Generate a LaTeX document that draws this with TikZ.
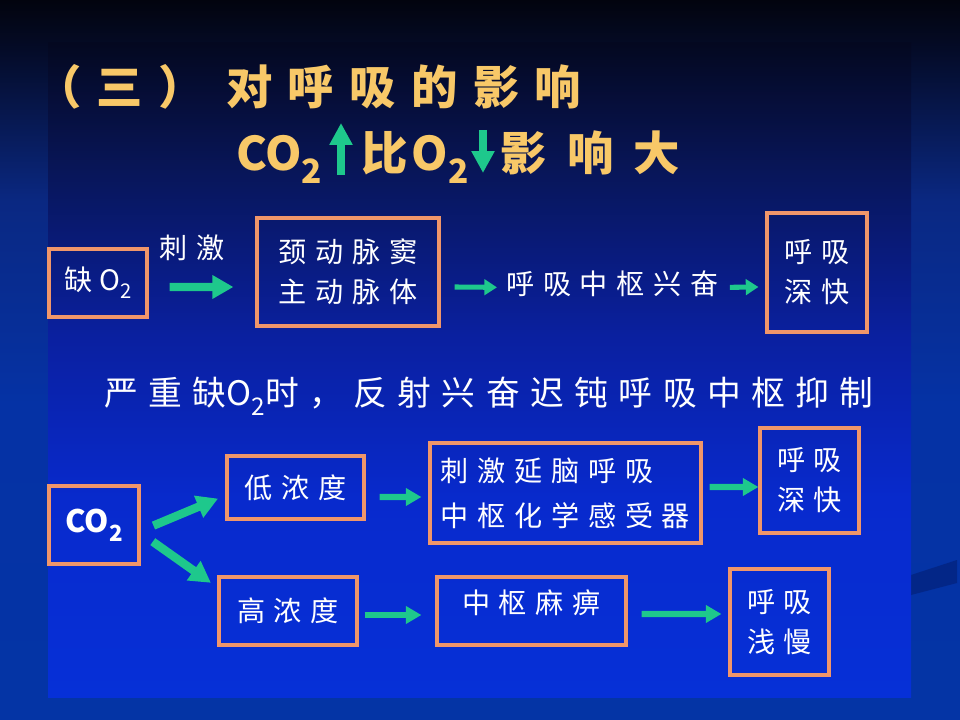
\documentclass[tikz,border=0pt]{standalone}
\usepackage{fontspec}
\setmainfont{Noto Sans CJK SC}
\usepackage{graphicx}
\usetikzlibrary{arrows.meta}
\definecolor{huang}{RGB}{248,200,104}
\definecolor{lv}{RGB}{30,200,140}
\definecolor{cheng}{RGB}{240,150,106}
\definecolor{w0}{RGB}{2,4,14}
\definecolor{w1}{RGB}{4,10,36}
\definecolor{w2}{RGB}{10,40,130}
\definecolor{w3}{RGB}{5,50,165}
\definecolor{w4}{RGB}{4,52,165}
\definecolor{n0}{RGB}{4,8,32}
\definecolor{n1}{RGB}{8,22,90}
\definecolor{n2}{RGB}{10,32,160}
\definecolor{n3}{RGB}{8,42,205}
\definecolor{n4}{RGB}{6,48,215}
\definecolor{xie}{RGB}{3,38,135}
\pgfdeclareverticalshading{waibg}{100bp}{color(0bp)=(w4); color(25bp)=(w4); color(47bp)=(w3); color(61bp)=(w2); color(72bp)=(w1); color(75bp)=(w0); color(100bp)=(w0)}
\pgfdeclareverticalshading{neibg}{100bp}{color(0bp)=(n4); color(25bp)=(n4); color(40bp)=(n3); color(52.5bp)=(n2); color(65bp)=(n1); color(75bp)=(n0); color(100bp)=(n0)}
\newcommand{\xiabiao}[1]{\raisebox{-.28em}{\scalebox{.72}{#1}}}
\newcommand{\hx}[2]{{\addfontfeature{LetterSpace=0}#1\xiabiao{#2}}}
\begin{document}
\begin{tikzpicture}[x=0.025cm,y=-0.025cm,
  kuang/.style={draw=cheng,line width=2.2pt,text=white,inner sep=0pt,align=center,
    font={\fontsize{20}{28.5}\selectfont\addfontfeature{LetterSpace=31}}},
  zi/.style={text=white,inner sep=0pt,font={\fontsize{20}{28.5}\selectfont\addfontfeature{LetterSpace=31}}},
  hang/.style={text=white,inner sep=0pt,font={\fontsize{24}{30}\selectfont\addfontfeature{LetterSpace=31}}},
  biaoti/.style={text=huang,inner sep=0pt,font={\bfseries\fontsize{33}{40}\selectfont\addfontfeature{LetterSpace=33}}},
  biaoti2/.style={text=huang,inner sep=0pt,font={\bfseries\fontsize{33}{40}\selectfont\addfontfeature{LetterSpace=44}}},
  cu/.style={lv,line width=6pt,-{Triangle[length=15pt,width=16pt]}},
  zhong/.style={lv,line width=4.4pt,-{Triangle[length=11pt,width=12pt]}},
  xi/.style={lv,line width=3.6pt,-{Triangle[length=9pt,width=11pt]}},
  jt/.style={lv,line width=5pt,-{Triangle[length=15.6pt,width=15.6pt]}}]
\useasboundingbox (0,0) rectangle (960,720);
\shade[shading=waibg] (0,0) rectangle (960,720);
\fill[xie] (911,575) -- (957,560) -- (957,583) -- (911,595) -- cycle;
\shade[shading=neibg] (48,43) rectangle (911,697);

\node[biaoti,anchor=base] (san) at (120,105) {（三）};
\node[biaoti,anchor=base west] (duihx) at (226,105) {对呼吸的影响};
\node[biaoti,anchor=base west] (co) at (236,171) {\hx{CO}{2}};
\coordinate (up0) at (341,175);
\coordinate (up1) at (341,123);
\node[biaoti,anchor=base west] (bi) at (361,171) {比\hspace{3pt}\hx{O}{2}};
\coordinate (dn0) at (483,130);
\coordinate (dn1) at (483,173);
\node[biaoti2,anchor=base west] (yxd) at (500,171) {影响大};
\draw[jt] (up0) -- (up1);
\draw[jt] (dn0) -- (dn1);

\node[kuang,minimum width=2.45cm,minimum height=1.7cm] (que) at (98,283) {缺\hspace{5pt}\hx{O}{2}};
\node[zi,anchor=base] (ciji1) at (192,259) {刺激};
\node[kuang,minimum width=4.55cm,minimum height=2.7cm] (jing) at (348,272) {颈动脉窦\\主动脉体};
\node[zi,anchor=base west] (xing) at (506,295) {呼吸中枢兴奋};
\node[kuang,minimum width=2.5cm,minimum height=2.975cm] (shen1) at (817,272.5) {呼吸\\深快};
\draw[cu] ([xshift=.525cm,yshift=-.1cm]que.east) -- ([xshift=-.55cm,yshift=-.375cm]jing.west);
\draw[xi] ([xshift=.35cm,yshift=-.375cm]jing.east) -- ([xshift=-.225cm,yshift=-.075cm]xing.west);
\draw[xi] ([xshift=.275cm,yshift=-.075cm]xing.east) -- ([xshift=-.175cm,yshift=-.3625cm]shen1.west);

\node[hang,anchor=base] (yanzh) at (489,406) {严重缺\hx{O}{2}时，反射兴奋迟钝呼吸中枢抑制};

\node[kuang,minimum width=2.25cm,minimum height=1.95cm] (co2) at (94,525) {\fontsize{22}{26}\selectfont\bfseries\hx{CO}{2}};
\node[kuang,minimum width=3.425cm,minimum height=1.575cm] (di) at (295.5,487.5) {低浓度};
\node[kuang,minimum width=3.45cm,minimum height=1.7cm] (gao) at (288,611) {高浓度};
\node[kuang,align=left,minimum width=6.775cm,minimum height=2.5cm] (ciji) at (565.5,493) {刺激延脑呼吸\\[3.5pt]中枢化学感受器};
\node[kuang,text depth=14pt,minimum width=4.725cm,minimum height=1.7cm] (mabi) at (531.5,611) {中枢麻痹};
\node[kuang,minimum width=2.475cm,minimum height=2.625cm] (shen2) at (809.5,480.5) {呼吸\\深快};
\node[kuang,minimum width=2.475cm,minimum height=2.65cm] (qian) at (779.5,622) {呼吸\\浅慢};
\draw[cu,shorten <=.35cm,shorten >=.2cm] ([yshift=-.15cm]co2.east) -- ([yshift=-.2cm]di.west);
\draw[cu,shorten <=.375cm,shorten >=.2cm] ([yshift=-.2cm]co2.east) -- ([yshift=-.3cm]gao.north west);
\draw[zhong] ([xshift=.35cm,yshift=-.2375cm]di.east) -- ([xshift=-.175cm,yshift=-.1cm]ciji.west);
\draw[zhong] ([xshift=.175cm,yshift=.15cm]ciji.east) -- ([yshift=-.1625cm]shen2.west);
\draw[zhong] ([xshift=.15cm,yshift=-.1cm]gao.east) -- ([xshift=-.35cm,yshift=-.1cm]mabi.west);
\draw[zhong] ([xshift=.35cm,yshift=-.075cm]mabi.east) -- ([xshift=-.175cm,yshift=.2cm]qian.west);
\end{tikzpicture}
\end{document}
